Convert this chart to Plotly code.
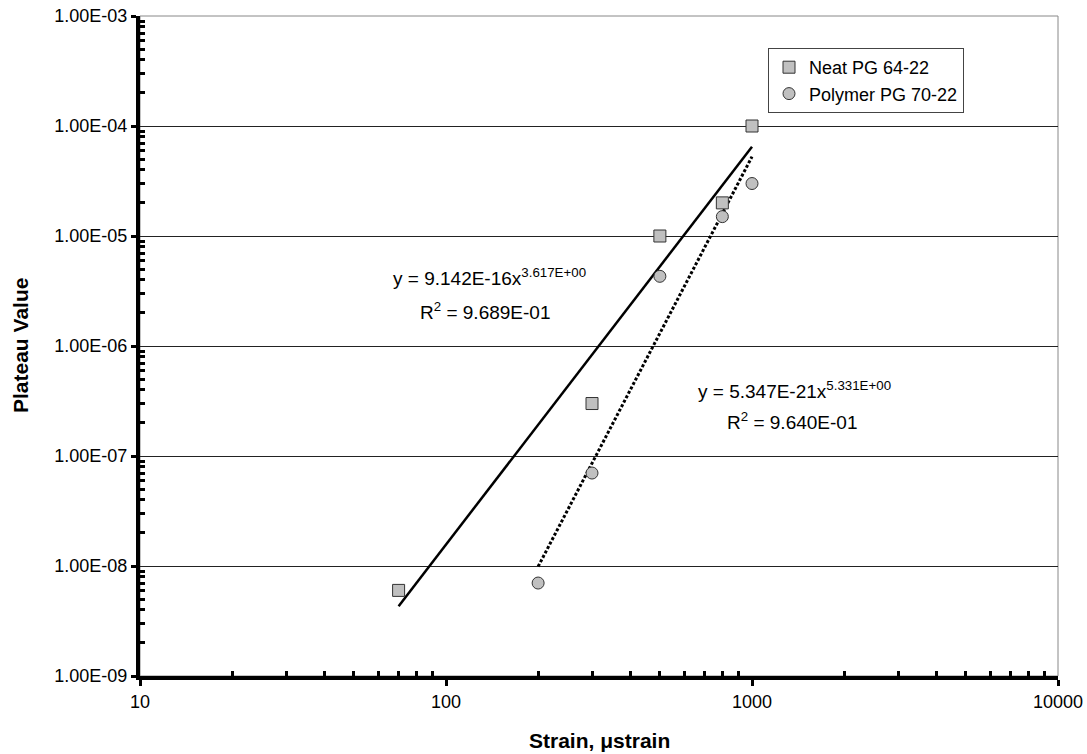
import numpy as np
import plotly.graph_objects as go

# Data
neat_x = [70, 300, 500, 800, 1000]
neat_y = [6e-9, 3e-7, 1e-5, 2e-5, 1e-4]
poly_x = [200, 300, 500, 800, 1000]
poly_y = [7e-9, 7e-8, 4.3e-6, 1.5e-5, 3e-5]

# Power-law trendline coefficients shown on the chart: y = a * x^b
neat_fit = [9.142e-16, 3.617]
poly_fit = [5.347e-21, 5.331]

y_tickvals = [1e-9, 1e-8, 1e-7, 1e-6, 1e-5, 1e-4, 1e-3]
y_ticktext = ["1.00E-09", "1.00E-08", "1.00E-07", "1.00E-06", "1.00E-05", "1.00E-04", "1.00E-03"]
x_tickvals = [10, 100, 1000, 10000]
x_ticktext = ["10", "100", "1000", "10000"]

FONT = "Liberation Sans, Arial, sans-serif"

x_minor = [m * 10 ** e for e in range(1, 4) for m in range(2, 10)]
y_minor = [m * 10.0 ** e for e in range(-9, -3) for m in range(2, 10)]

neat_tx = np.geomspace(min(neat_x), max(neat_x), 200)
neat_ty = neat_fit[0] * neat_tx ** neat_fit[1]
poly_tx = np.geomspace(min(poly_x), max(poly_x), 200)
poly_ty = poly_fit[0] * poly_tx ** poly_fit[1]

fig = go.Figure()
fig.add_trace(go.Scatter(x=neat_tx, y=neat_ty, mode="lines",
                         line=dict(color="black", width=2.5), showlegend=False, hoverinfo="skip"))
fig.add_trace(go.Scatter(x=poly_tx, y=poly_ty, mode="lines",
                         line=dict(color="black", width=3, dash="3px,2px"), showlegend=False, hoverinfo="skip"))
fig.add_trace(go.Scatter(x=neat_x, y=neat_y, mode="markers", name="Neat PG 64-22",
                         marker=dict(symbol="square", size=12, color="#c0c0c0",
                                     line=dict(color="#333333", width=1))))
fig.add_trace(go.Scatter(x=poly_x, y=poly_y, mode="markers", name="Polymer PG 70-22",
                         marker=dict(symbol="circle", size=12, color="#c0c0c0",
                                     line=dict(color="#333333", width=1))))

fig.update_xaxes(type="log", range=[1, 4], tickvals=x_tickvals, ticktext=x_ticktext,
                 ticks="outside", ticklen=6, tickwidth=3, tickcolor="black",
                 showline=True, linecolor="black", linewidth=4,
                 showgrid=False, zeroline=False, automargin=False,
                 minor=dict(tickvals=x_minor, ticks="inside", ticklen=5, tickwidth=3,
                            tickcolor="black", showgrid=False),
                 tickfont=dict(family=FONT, size=18, color="black"))
fig.update_yaxes(type="log", range=[-9, -3], tickvals=y_tickvals, ticktext=y_ticktext,
                 ticks="outside", ticklen=5, tickwidth=3, tickcolor="black",
                 showline=True, linecolor="black", linewidth=4,
                 showgrid=True, gridcolor="#222222", gridwidth=1, zeroline=False, automargin=False,
                 minor=dict(tickvals=y_minor, ticks="inside", ticklen=5, tickwidth=3,
                            tickcolor="black", showgrid=False),
                 tickfont=dict(family=FONT, size=18, color="black"))

# plot-area border (thin gray)
fig.add_shape(type="rect", xref="paper", yref="paper", x0=0, y0=0, x1=1, y1=1,
              line=dict(color="#888888", width=1), layer="below")

W, H = 918.0, 660.0
L, T = 140.0, 16.0

def ann(x, y, text, size=19, angle=0):
    fig.add_annotation(x=(x - L) / W, y=1 - (y - T) / H, xref="paper", yref="paper",
                       text=text, showarrow=False, xanchor="center", yanchor="middle",
                       textangle=angle, font=dict(family=FONT, size=size, color="black"))

ann(489, 277, "y = 9.142E-16x<sup>3.617E+00</sup>")
ann(485, 311, "R<sup>2</sup> = 9.689E-01")
ann(794, 390, "y = 5.347E-21x<sup>5.331E+00</sup>")
ann(792, 421, "R<sup>2</sup> = 9.640E-01")

# axis titles
ann(599, 740, "<b>Strain, μstrain</b>", size=21)
ann(20, 346, "<b>Plateau Value</b>", size=21, angle=-90)

fig.update_layout(
    width=1087, height=754,
    margin=dict(l=140, r=29, t=16, b=78),
    paper_bgcolor="white", plot_bgcolor="white",
    font=dict(family=FONT, size=18, color="black"),
    legend=dict(x=(768 - L) / W, y=1 - (48 - T) / H, xanchor="left", yanchor="top",
                bordercolor="#444444", borderwidth=1, bgcolor="white",
                font=dict(family=FONT, size=18, color="black"),
                itemwidth=30, tracegroupgap=0),
)

fig.write_html("out.html")
